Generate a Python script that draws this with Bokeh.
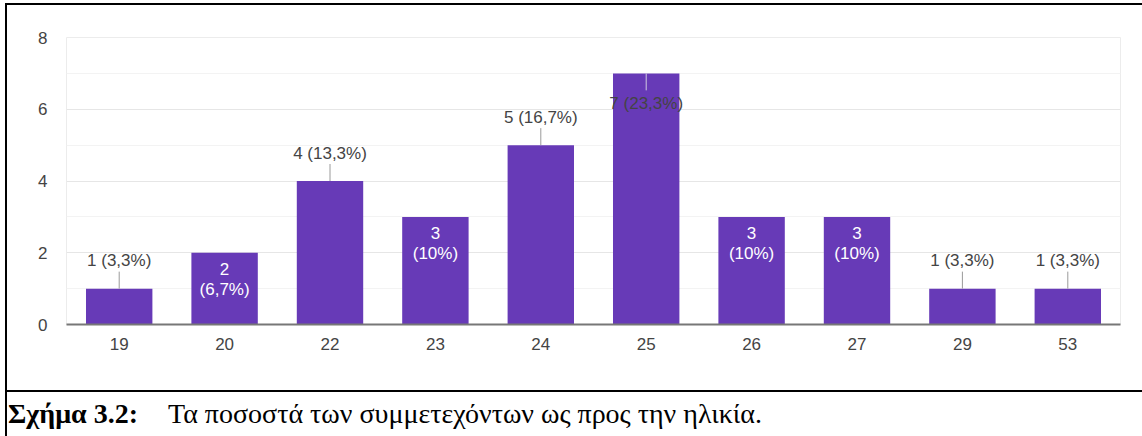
from bokeh.plotting import figure
from bokeh.models import FixedTicker, Div, Spacer
from bokeh.layouts import column, row
from bokeh.core.properties import value
from bokeh.embed import file_html
from bokeh.resources import INLINE

# ---- data ----
ages = ["19", "20", "22", "23", "24", "25", "26", "27", "29", "53"]
counts = [1, 2, 4, 3, 5, 7, 3, 3, 1, 1]
total = 30
y_ticks = [0, 2, 4, 6, 8]
y_minor = [1, 3, 5, 7]
caption_bold = "Σχήμα 3.2:"
caption_text = "Τα ποσοστά των συμμετεχόντων ως προς την ηλικία."
# where each value label sits in the reference
placement = ["above", "inside", "above", "inside", "above", "top", "inside", "inside", "above", "above"]


def pct(c):
    s = f"{100.0 * c / total:.1f}"
    if s.endswith(".0"):
        s = s[:-2]
    return s.replace(".", ",") + "%"


FONT = "Liberation Sans"
SERIF = "Liberation Serif"
PURPLE = "#673ab7"
TOTAL_W, TOTAL_H = 1142, 436
TOP_H = 6
LEFT_W = 8
CAP_H = 46
CHART_W = TOTAL_W - LEFT_W
CHART_H = TOTAL_H - TOP_H - CAP_H

top = Spacer(width=TOTAL_W, height=TOP_H, margin=(0, 0, 0, 0))
left = Spacer(width=LEFT_W, height=TOTAL_H - TOP_H, margin=(0, 0, 0, 0))

# ---- chart ----
p = figure(x_range=ages, y_range=(0, 8), width=CHART_W, height=CHART_H,
           output_backend="svg", toolbar_location=None, margin=(0, 0, 0, 0),
           min_border_left=58, min_border_right=22, min_border_top=31, min_border_bottom=66,
           styles={"overflow": "hidden"})
p.outline_line_color = "#ececec"
p.background_fill_color = "white"
p.border_fill_color = "white"

p.vbar(x=ages, top=counts, width=0.63, fill_color=PURPLE, line_color=None)

p.yaxis.ticker = FixedTicker(ticks=y_ticks, minor_ticks=y_minor)
p.yaxis.axis_line_color = None
p.yaxis.major_tick_line_color = None
p.yaxis.minor_tick_line_color = None
p.yaxis.major_tick_out = 0
p.yaxis.major_tick_in = 0
p.yaxis.minor_tick_out = 0
p.yaxis.major_label_standoff = 19
p.yaxis.major_label_text_font = FONT
p.yaxis.major_label_text_font_size = "17px"
p.yaxis.major_label_text_color = "#444444"

p.xaxis.axis_line_color = "#777777"
p.xaxis.axis_line_width = 2
p.xaxis.major_tick_line_color = None
p.xaxis.minor_tick_line_color = None
p.xaxis.major_tick_out = 0
p.xaxis.major_tick_in = 0
p.xaxis.major_label_standoff = 13
p.xaxis.major_label_text_font = FONT
p.xaxis.major_label_text_font_size = "17px"
p.xaxis.major_label_text_color = "#444444"

p.xgrid.grid_line_color = None
p.ygrid.grid_line_color = "#e6e6e6"
p.ygrid.minor_grid_line_color = "#f3f3f3"

ab_x, ab_y, ab_t = [], [], []
in_x, in_y, in_t1, in_t2 = [], [], [], []
tp_x, tp_y, tp_t = [], [], []
for a, c, pl in zip(ages, counts, placement):
    if pl == "above":
        ab_x.append(a); ab_y.append(c); ab_t.append(f"{c} ({pct(c)})")
    elif pl == "inside":
        in_x.append(a); in_y.append(c); in_t1.append(str(c)); in_t2.append(f"({pct(c)})")
    else:
        tp_x.append(a); tp_y.append(c); tp_t.append(f"{c} ({pct(c)})")

lead = 17 / 35.9  # leader length in data units (17 px)
p.segment(x0=ab_x, x1=ab_x, y0=ab_y, y1=[v + lead for v in ab_y], line_color="#9a9a9a", line_width=1)
p.text(x=ab_x, y=ab_y, text=ab_t, y_offset=-28, text_align="center", text_baseline="middle",
       text_font=value(FONT), text_font_size="17px", text_color="#444444")

p.text(x=in_x, y=in_y, text=in_t1, y_offset=16, text_align="center", text_baseline="middle",
       text_font=value(FONT), text_font_size="17px", text_color="#ffffff")
p.text(x=in_x, y=in_y, text=in_t2, y_offset=37, text_align="center", text_baseline="middle",
       text_font=value(FONT), text_font_size="17px", text_color="#ffffff")

p.segment(x0=tp_x, x1=tp_x, y0=tp_y, y1=[v - lead for v in tp_y], line_color="#cfc8e0", line_width=1)
p.text(x=tp_x, y=tp_y, text=tp_t, y_offset=30, text_align="center", text_baseline="middle",
       text_font=value(FONT), text_font_size="17px", text_color="#444444")

# ---- caption with the document frame rules (HTML) ----
ofs_y = TOP_H + CHART_H  # caption box top on the page
cap_html = (
    f'<div style="position:relative;width:{CHART_W}px;height:{CAP_H}px;overflow:visible;">'
    # separator rule
    f'<div style="position:absolute;left:-3px;top:0px;width:{CHART_W + 3}px;height:2px;background:#000;"></div>'
    # left rule of the document box
    f'<div style="position:absolute;left:-3px;top:{3 - ofs_y}px;width:2px;height:{TOTAL_H - 3}px;background:#000;z-index:5;"></div>'
    # top rule of the document box
    f'<div style="position:absolute;left:-3px;top:{3 - ofs_y}px;width:{TOTAL_W - 5}px;height:2px;background:#000;z-index:5;"></div>'
    f'<span style="position:absolute;left:0px;top:10px;white-space:nowrap;font-family:\'{SERIF}\';'
    f'font-size:28px;line-height:28px;font-weight:bold;color:#000;">{caption_bold}</span>'
    f'<span style="position:absolute;left:160px;top:10px;white-space:nowrap;font-family:\'{SERIF}\';'
    f'font-size:28px;line-height:28px;color:#000;">{caption_text}</span>'
    '</div>'
)
cap = Div(width=CHART_W, height=CAP_H, margin=(0, 0, 0, 0), text=cap_html,
          styles={"overflow": "visible", "z-index": "5"})

layout = column(top, row(left, column(p, cap, spacing=0), spacing=0), spacing=0)
open("out.html", "w").write(file_html(layout, INLINE))
